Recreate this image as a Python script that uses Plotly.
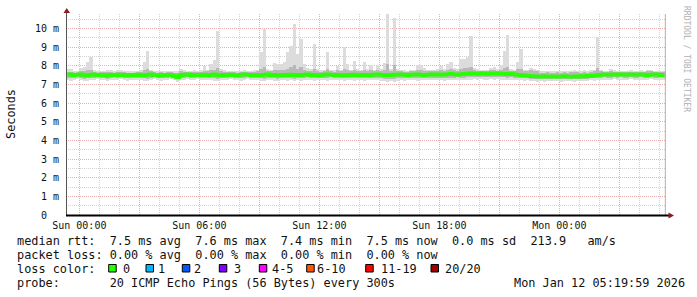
import pandas as pd
import plotly.graph_objects as go

# ---------------- data (ms), 10-minute bins from Sat 23:20 to Mon 05:20 ----------------
bin_start = "2026-01-10 23:25"
n_bins = 180

median = [
    7.52, 7.54, 7.50, 7.52, 7.55, 7.50, 7.48, 7.52, 7.55, 7.50,
    7.52, 7.50, 7.47, 7.52, 7.50, 7.53, 7.50, 7.52, 7.49, 7.52,
    7.50, 7.53, 7.50, 7.48, 7.52, 7.55, 7.50, 7.50, 7.47, 7.50,
    7.52, 7.50, 7.45, 7.38, 7.50, 7.52, 7.55, 7.50, 7.52, 7.50,
    7.50, 7.53, 7.50, 7.52, 7.55, 7.50, 7.48, 7.52, 7.50, 7.53,
    7.50, 7.48, 7.52, 7.55, 7.52, 7.50, 7.52, 7.48, 7.50, 7.52,
    7.55, 7.50, 7.52, 7.50, 7.48, 7.52, 7.50, 7.53, 7.50, 7.52,
    7.50, 7.52, 7.55, 7.50, 7.52, 7.50, 7.48, 7.52, 7.55, 7.52,
    7.50, 7.52, 7.50, 7.48, 7.52, 7.50, 7.53, 7.50, 7.52, 7.50,
    7.52, 7.50, 7.53, 7.55, 7.52, 7.50, 7.52, 7.50, 7.53, 7.52,
    7.55, 7.52, 7.50, 7.53, 7.52, 7.55, 7.52, 7.50, 7.52, 7.55,
    7.52, 7.55, 7.53, 7.52, 7.55, 7.57, 7.55, 7.52, 7.55, 7.57,
    7.58, 7.60, 7.58, 7.57, 7.60, 7.58, 7.57, 7.60, 7.58, 7.60,
    7.58, 7.57, 7.55, 7.58, 7.55, 7.52, 7.50, 7.48, 7.47, 7.45,
    7.45, 7.43, 7.42, 7.45, 7.43, 7.42, 7.44, 7.42, 7.43, 7.45,
    7.43, 7.42, 7.44, 7.42, 7.45, 7.43, 7.47, 7.45, 7.48, 7.50,
    7.52, 7.55, 7.52, 7.53, 7.55, 7.52, 7.55, 7.53, 7.52, 7.55,
    7.53, 7.52, 7.55, 7.53, 7.50, 7.52, 7.55, 7.53, 7.50, 7.52,
]

smoke_hi = [
    7.85, 7.85, 7.75, 7.72, 7.90, 7.94, 8.20, 8.50, 7.80, 7.74,
    7.72, 7.75, 7.80, 7.78, 7.72, 7.80, 7.76, 7.72, 7.74, 7.70,
    7.72, 7.75, 7.78, 8.20, 8.77, 7.80, 7.74, 7.72, 7.75, 7.72,
    7.72, 7.74, 7.70, 7.72, 7.85, 7.76, 7.72, 7.74, 7.78, 7.75,
    7.78, 8.00, 7.80, 8.08, 8.30, 9.87, 7.82, 7.76, 7.74, 7.75,
    7.75, 7.72, 7.74, 7.76, 7.72, 7.75, 7.78, 7.80, 8.73, 9.98,
    7.85, 7.80, 8.17, 8.08, 8.08, 8.20, 8.73, 9.05, 10.27, 8.62,
    9.44, 8.12, 7.90, 7.85, 9.15, 7.85, 7.78, 7.80, 8.75, 7.80,
    7.78, 7.97, 7.80, 9.00, 8.10, 7.80, 8.26, 7.85, 7.80, 8.23,
    7.85, 8.05, 7.80, 8.06, 7.85, 8.17, 10.77, 7.85, 10.54, 7.85,
    7.80, 7.78, 7.75, 7.78, 7.80, 8.03, 8.05, 7.90, 7.78, 7.80,
    7.78, 7.85, 8.00, 7.85, 8.08, 8.19, 7.90, 7.85, 8.35, 8.37,
    8.50, 9.62, 7.90, 7.85, 7.80, 7.78, 7.80, 7.90, 7.92, 7.85,
    8.05, 8.80, 9.68, 7.82, 7.78, 8.19, 8.92, 7.80, 7.78, 7.90,
    7.85, 7.78, 7.72, 7.70, 7.74, 7.72, 7.70, 7.75, 7.72, 7.74,
    7.72, 7.75, 7.78, 7.74, 7.72, 7.76, 7.72, 7.78, 7.80, 9.52,
    7.78, 7.74, 7.72, 7.82, 7.76, 7.72, 7.74, 7.75, 7.72, 7.76,
    7.74, 7.72, 7.76, 7.74, 7.78, 7.80, 7.74, 7.72, 7.75, 7.72,
]

smoke_lo = [
    7.22, 7.20, 7.25, 7.28, 7.22, 7.18, 7.20, 7.25, 7.22, 7.27,
    7.25, 7.22, 7.18, 7.24, 7.26, 7.22, 7.28, 7.25, 7.20, 7.24,
    7.26, 7.22, 7.25, 7.20, 7.18, 7.24, 7.27, 7.25, 7.20, 7.22,
    7.25, 7.28, 7.22, 7.15, 7.22, 7.25, 7.27, 7.22, 7.25, 7.28,
    7.24, 7.22, 7.26, 7.25, 7.20, 7.18, 7.22, 7.26, 7.24, 7.28,
    7.25, 7.22, 7.20, 7.26, 7.28, 7.24, 7.22, 7.25, 7.20, 7.18,
    7.22, 7.25, 7.20, 7.18, 7.22, 7.25, 7.20, 7.22, 7.18, 7.24,
    7.20, 7.24, 7.26, 7.22, 7.20, 7.25, 7.22, 7.24, 7.20, 7.26,
    7.24, 7.22, 7.25, 7.20, 7.24, 7.22, 7.20, 7.25, 7.22, 7.20,
    7.24, 7.22, 7.25, 7.22, 7.20, 7.18, 7.15, 7.17, 7.15, 7.20,
    7.22, 7.20, 7.25, 7.24, 7.22, 7.20, 7.22, 7.25, 7.22, 7.24,
    7.25, 7.22, 7.24, 7.20, 7.25, 7.22, 7.24, 7.26, 7.22, 7.25,
    7.24, 7.26, 7.28, 7.25, 7.27, 7.24, 7.26, 7.28, 7.25, 7.27,
    7.25, 7.24, 7.22, 7.26, 7.22, 7.25, 7.22, 7.20, 7.22, 7.18,
    7.17, 7.15, 7.18, 7.16, 7.18, 7.20, 7.17, 7.19, 7.16, 7.18,
    7.20, 7.18, 7.16, 7.18, 7.20, 7.17, 7.20, 7.22, 7.20, 7.22,
    7.24, 7.26, 7.22, 7.25, 7.27, 7.24, 7.26, 7.22, 7.25, 7.27,
    7.25, 7.24, 7.26, 7.22, 7.25, 7.27, 7.24, 7.22, 7.26, 7.24,
]

core_lo = [
    7.35, 7.34, 7.36, 7.38, 7.35, 7.32, 7.33, 7.36, 7.35, 7.38,
    7.37, 7.35, 7.32, 7.36, 7.38, 7.35, 7.38, 7.37, 7.34, 7.36,
    7.37, 7.35, 7.36, 7.33, 7.32, 7.36, 7.38, 7.37, 7.34, 7.35,
    7.37, 7.38, 7.34, 7.28, 7.35, 7.37, 7.38, 7.35, 7.37, 7.38,
    7.36, 7.35, 7.37, 7.36, 7.33, 7.32, 7.35, 7.37, 7.36, 7.38,
    7.37, 7.35, 7.34, 7.37, 7.38, 7.36, 7.35, 7.37, 7.34, 7.32,
    7.35, 7.37, 7.34, 7.32, 7.35, 7.37, 7.34, 7.35, 7.32, 7.36,
    7.34, 7.36, 7.38, 7.35, 7.34, 7.37, 7.35, 7.36, 7.34, 7.38,
    7.36, 7.35, 7.37, 7.34, 7.36, 7.35, 7.34, 7.37, 7.35, 7.34,
    7.36, 7.35, 7.37, 7.35, 7.34, 7.32, 7.30, 7.31, 7.30, 7.33,
    7.35, 7.34, 7.37, 7.36, 7.35, 7.34, 7.35, 7.37, 7.35, 7.36,
    7.37, 7.35, 7.36, 7.34, 7.37, 7.35, 7.36, 7.38, 7.35, 7.37,
    7.38, 7.40, 7.41, 7.39, 7.41, 7.38, 7.40, 7.41, 7.39, 7.41,
    7.39, 7.38, 7.36, 7.39, 7.36, 7.37, 7.35, 7.33, 7.34, 7.31,
    7.30, 7.29, 7.31, 7.30, 7.31, 7.32, 7.30, 7.31, 7.29, 7.31,
    7.32, 7.30, 7.29, 7.31, 7.32, 7.30, 7.32, 7.34, 7.33, 7.35,
    7.36, 7.38, 7.35, 7.37, 7.39, 7.36, 7.38, 7.35, 7.37, 7.39,
    7.37, 7.36, 7.38, 7.35, 7.37, 7.39, 7.36, 7.35, 7.38, 7.36,
]

core_hi = [
    7.66, 7.68, 7.64, 7.65, 7.70, 7.72, 7.76, 7.80, 7.68, 7.64,
    7.65, 7.66, 7.68, 7.67, 7.64, 7.68, 7.66, 7.65, 7.64, 7.63,
    7.64, 7.66, 7.68, 7.76, 7.82, 7.70, 7.65, 7.64, 7.66, 7.64,
    7.65, 7.66, 7.62, 7.60, 7.72, 7.66, 7.68, 7.65, 7.68, 7.66,
    7.68, 7.75, 7.70, 7.76, 7.80, 7.90, 7.70, 7.66, 7.65, 7.66,
    7.66, 7.64, 7.66, 7.68, 7.65, 7.66, 7.68, 7.70, 7.85, 7.95,
    7.72, 7.70, 7.80, 7.78, 7.76, 7.80, 7.85, 7.95, 8.05, 7.85,
    7.95, 7.78, 7.72, 7.70, 7.85, 7.72, 7.68, 7.70, 7.85, 7.70,
    7.68, 7.76, 7.70, 7.85, 7.78, 7.70, 7.80, 7.72, 7.70, 7.80,
    7.72, 7.78, 7.70, 7.78, 7.72, 7.80, 8.10, 7.75, 8.05, 7.72,
    7.70, 7.68, 7.66, 7.70, 7.72, 7.78, 7.80, 7.75, 7.70, 7.72,
    7.70, 7.75, 7.78, 7.75, 7.80, 7.84, 7.78, 7.75, 7.85, 7.86,
    7.88, 7.95, 7.80, 7.75, 7.72, 7.70, 7.72, 7.78, 7.80, 7.75,
    7.80, 7.88, 7.95, 7.72, 7.70, 7.82, 7.85, 7.72, 7.70, 7.78,
    7.75, 7.70, 7.64, 7.62, 7.65, 7.64, 7.62, 7.66, 7.64, 7.65,
    7.64, 7.66, 7.68, 7.65, 7.64, 7.66, 7.64, 7.68, 7.70, 7.88,
    7.70, 7.66, 7.65, 7.72, 7.68, 7.65, 7.66, 7.67, 7.65, 7.68,
    7.66, 7.65, 7.68, 7.66, 7.70, 7.72, 7.66, 7.65, 7.67, 7.65,
]

y_tick_vals = [0, 1, 2, 3, 4, 5, 6, 7, 8, 9, 10]
y_tick_text = ["0  ", "1 m", "2 m", "3 m", "4 m", "5 m", "6 m", "7 m", "8 m", "9 m", "10 m"]
x_tick_vals = ["2026-01-11 00:00", "2026-01-11 03:00", "2026-01-11 06:00", "2026-01-11 09:00",
               "2026-01-11 12:00", "2026-01-11 15:00", "2026-01-11 18:00", "2026-01-11 21:00",
               "2026-01-12 00:00", "2026-01-12 03:00"]
x_tick_text = ["Sun 00:00", "", "Sun 06:00", "", "Sun 12:00", "", "Sun 18:00", "", "Mon 00:00", ""]
x_range = ["2026-01-10 23:20", "2026-01-12 05:20"]
last_update = "2026-01-12 05:18"

legend_rows = [
    "median rtt:  7.5 ms avg  7.6 ms max  7.4 ms min  7.5 ms now  0.0 ms sd  213.9   am/s",
    "packet loss: 0.00 % avg  0.00 % max  0.00 % min  0.00 % now",
    "loss color:",
    "probe:       20 ICMP Echo Pings (56 Bytes) every 300s",
]
loss_labels = ["0", "1", "2", "3", "4-5", "6-10", "11-19", "20/20"]
loss_colors = ["#26ff00", "#00b8ff", "#0059ff", "#7e00ff", "#ff00ff", "#ff5500", "#ff0000", "#a10000"]
timestamp = "Mon Jan 12 05:19:59 2026"

# ---------------- geometry helpers (pixel -> paper) ----------------
W, H = 697, 297
L, R, T, B = 66, 31, 14, 82
PW, PH = W - L - R, H - T - B


def px(x):
    return (x - L) / PW


def py(y):
    return (H - B - y) / PH


def nb(s):
    return s.replace(" ", "\u00a0")


MONO = "DejaVu Sans Mono"
times = pd.date_range(bin_start, periods=n_bins, freq="10min")
binw = 10 * 60 * 1000

fig = go.Figure()
fig.add_trace(go.Bar(x=times, base=smoke_lo, y=[h - l for h, l in zip(smoke_hi, smoke_lo)],
                     width=binw, marker=dict(color="#dcdcdc", line=dict(width=0)), hoverinfo="skip"))
fig.add_trace(go.Bar(x=times, base=core_lo, y=[h - l for h, l in zip(core_hi, core_lo)],
                     width=binw, marker=dict(color="#b8b8b8", line=dict(width=0)), hoverinfo="skip"))
fig.add_trace(go.Scatter(x=times, y=median, mode="lines",
                         line=dict(color=loss_colors[0], width=3.6, shape="hvh"), hoverinfo="skip"))

grid_minor = "#d2d2d2"
grid_major = "#e9b0b0"

fig.update_layout(
    width=W, height=H, margin=dict(l=L, r=R, t=T, b=B),
    paper_bgcolor="white", plot_bgcolor="white",
    showlegend=False, barmode="overlay", bargap=0,
    xaxis=dict(type="date", range=x_range, tickvals=x_tick_vals, ticktext=x_tick_text,
               showgrid=True, gridcolor=grid_major, griddash="1px,1px", gridwidth=1,
               minor=dict(dtick=3600000, tick0="2026-01-11 00:00", showgrid=True,
                          gridcolor=grid_minor, griddash="1px,1px", gridwidth=1),
               showline=False, zeroline=False, ticks="outside", ticklen=1, tickcolor="rgba(0,0,0,0)",
               tickfont=dict(family=MONO, size=10, color="#111"), fixedrange=True),
    yaxis=dict(range=[0, 10.78], tickvals=y_tick_vals, ticktext=[nb(t) for t in y_tick_text],
               showgrid=True, gridcolor=grid_major, griddash="1px,1px", gridwidth=1,
               minor=dict(dtick=0.5, tick0=0, showgrid=True, gridcolor=grid_minor,
                          griddash="1px,1px", gridwidth=1),
               showline=False, zeroline=False, ticks="outside", ticklen=4, tickcolor="rgba(0,0,0,0)",
               tickfont=dict(family=MONO, size=10, color="#111"), fixedrange=True),
)

shapes = []
# last update marker
shapes.append(dict(type="line", xref="x", yref="paper", x0=last_update, x1=last_update, y0=0, y1=1,
                   line=dict(color="#bdb38f", width=1)))
# axes
shapes.append(dict(type="line", xref="paper", yref="paper", x0=px(66.5), x1=px(66.5), y0=0, y1=py(12),
                   line=dict(color="#555555", width=1)))
shapes.append(dict(type="line", xref="paper", yref="paper", x0=px(66), x1=px(670), y0=py(215.5), y1=py(215.5),
                   line=dict(color="#000000", width=2)))
# arrows
shapes.append(dict(type="path", xref="paper", yref="paper",
                   path=f"M {px(63.5)} {py(13)} L {px(70)} {py(13)} L {px(66.75)} {py(8)} Z",
                   fillcolor="#8e1c1c", line=dict(width=0)))
shapes.append(dict(type="path", xref="paper", yref="paper",
                   path=f"M {px(668.5)} {py(212.5)} L {px(668.5)} {py(218.5)} L {px(674)} {py(215.5)} Z",
                   fillcolor="#8e1c1c", line=dict(width=0)))

annotations = []
# y axis title
annotations.append(dict(xref="paper", yref="paper", x=px(11), y=py(114), text="Seconds", showarrow=False,
                        textangle=-90, xanchor="center", yanchor="middle",
                        font=dict(family=MONO, size=11.85, color="#111")))
# watermark
annotations.append(dict(xref="paper", yref="paper", x=px(686), y=py(59), text=nb("RRDTOOL / TOBI OETIKER"),
                        showarrow=False, textangle=90, xanchor="center", yanchor="middle",
                        font=dict(family=MONO, size=8, color="#b0b0b0")))

row_y = [240.7, 255.0, 269.2, 283.4]
for txt, yy in zip(legend_rows, row_y):
    annotations.append(dict(xref="paper", yref="paper", x=px(16), y=py(yy), text=nb(txt), showarrow=False,
                            xanchor="left", yanchor="middle", borderpad=0,
                            font=dict(family=MONO, size=11.85, color="#111")))
annotations.append(dict(xref="paper", yref="paper", x=px(513.3), y=py(row_y[3]), text=nb(timestamp),
                        showarrow=False, xanchor="left", yanchor="middle", borderpad=0,
                        font=dict(family=MONO, size=11.85, color="#111")))

box_x = [108.7, 146.0, 182.3, 219.3, 259.3, 306.7, 365.7, 431.0]
label_x = [121.7, 156.7, 193.3, 233.3, 270.7, 316.0, 380.0, 444.3]
for bx, lx, lab, col in zip(box_x, label_x, loss_labels, loss_colors):
    shapes.append(dict(type="rect", xref="paper", yref="paper", x0=px(bx), x1=px(bx + 7.5),
                       y0=py(272), y1=py(264.5), fillcolor=col, line=dict(color="#000000", width=1)))
    annotations.append(dict(xref="paper", yref="paper", x=px(lx), y=py(row_y[2]), text=nb(lab), showarrow=False,
                            xanchor="left", yanchor="middle", borderpad=0,
                            font=dict(family=MONO, size=11.85, color="#111")))

fig.update_layout(shapes=shapes, annotations=annotations)
fig.write_html("out.html")
